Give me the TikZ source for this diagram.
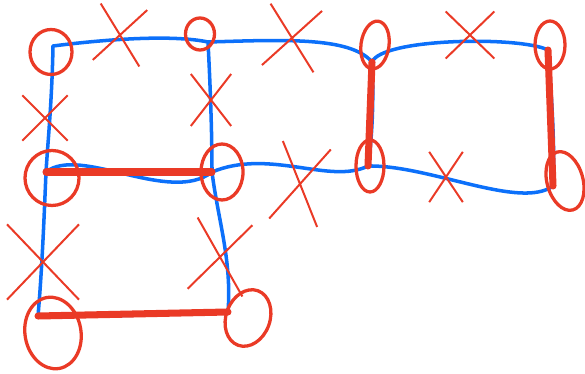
\documentclass[tikz,border=0pt]{standalone}
\usepackage{xcolor}
\usepackage{tikz}
\usetikzlibrary{shapes.geometric, shapes.misc}
\definecolor{sketchblue}{RGB}{12,112,250}
\definecolor{sketchred}{RGB}{234,58,38}
\tikzstyle{edge} = [draw=sketchblue, line width=3pt, line cap=round, line join=round]
\tikzstyle{marked} = [draw=sketchred, line width=6pt, line cap=round]
\tikzstyle{ring} = [
    ellipse,
    draw=sketchred,
    line width=2.8pt,
    inner sep=0pt
]
\tikzstyle{xmark} = [
    cross out,
    draw=sketchred,
    line width=1.7pt,
    inner sep=0pt
]

\begin{document}
\begin{tikzpicture}[x=0.03cm, y=-0.03cm]
    \useasboundingbox (0,0) rectangle (585,374);
    % Ecken
    \coordinate (vA) at (53,46);
    \coordinate (vB) at (208,42);
    \coordinate (vC) at (372,62);
    \coordinate (vD) at (548,50);
    \coordinate (vE) at (46,172);
    \coordinate (vF) at (212,172);
    \coordinate (vG) at (368,166);
    \coordinate (vH) at (553,186);
    \coordinate (vI) at (38,316);
    \coordinate (vJ) at (228,312);
    % blaue Kanten
    \draw [edge] (vA) .. controls (100,40) and (170,34) .. (vB);
    \draw [edge] (vB) .. controls (280,40) and (350,36) .. (vC);
    \draw [edge] (vC) .. controls (382,38) and (520,36) .. (vD);
    \draw [edge] (vA) .. controls (52,100) and (48,140) .. (vE);
    \draw [edge] (vB) .. controls (210,80) and (212,130) .. (vF);
    \draw [edge] (vC) .. controls (374,100) and (372,140) .. (vG);
    \draw [edge] (vD) .. controls (552,100) and (555,150) .. (vH);
    \draw [edge] (vE) .. controls (80,145) and (170,205) .. (vF);
    \draw [edge] (vF) .. controls (270,148) and (330,185) .. (vG);
    \draw [edge] (vG) .. controls (430,165) and (520,210) .. (vH);
    \draw [edge] (vE) .. controls (44,220) and (42,270) .. (vI);
    \draw [edge] (vF) .. controls (218,220) and (232,260) .. (vJ);
    \draw [edge] (vI) .. controls (100,317) and (180,314) .. (vJ);
    % rote Kanten
    \draw [marked] (vE) -- (vF);
    \draw [marked] (vC) -- (vG);
    \draw [marked] (vD) -- (vH);
    \draw [marked] (vI) -- (vJ);
    % Kreise
    \node (rA) [ring, minimum width=1.26cm, minimum height=1.35cm] at (51,52) {};
    \node (rB) [ring, minimum width=0.87cm, minimum height=0.96cm] at (200,34) {};
    \node (rC) [ring, minimum width=0.84cm, minimum height=1.44cm, rotate=-8] at (375,45) {};
    \node (rD) [ring, minimum width=0.9cm, minimum height=1.44cm] at (550,45) {};
    \node (rE) [ring, minimum width=1.62cm, minimum height=1.65cm] at (52,178) {};
    \node (rF) [ring, minimum width=1.26cm, minimum height=1.68cm] at (222,172) {};
    \node (rG) [ring, minimum width=0.84cm, minimum height=1.56cm] at (370,166) {};
    \node (rH) [ring, minimum width=1.08cm, minimum height=1.8cm, rotate=15] at (565,181) {};
    \node (rI) [ring, minimum width=1.68cm, minimum height=2.16cm, rotate=10] at (53,333) {};
    \node (rJ) [ring, minimum width=1.32cm, minimum height=1.74cm, rotate=-20] at (248,318) {};
    % Kreuze
    \node (xAB) [xmark, minimum width=1.35cm, minimum height=1.65cm, rotate=-8] at (120,35) {};
    \node (xBC) [xmark, minimum width=1.5cm, minimum height=1.8cm, rotate=-8] at (292,38) {};
    \node (xCD) [xmark, minimum width=1.4cm, minimum height=1.35cm] at (470,35) {};
    \node (xAE) [xmark, minimum width=1.3cm, minimum height=1.3cm] at (45,118) {};
    \node (xBF) [xmark, minimum width=1.15cm, minimum height=1.5cm] at (211,100) {};
    \node (xFG) [xmark, minimum width=1.4cm, minimum height=2.3cm, rotate=-10] at (300,184) {};
    \node (xGH) [xmark, minimum width=0.95cm, minimum height=1.45cm] at (446,177) {};
    \node (xEI) [xmark, minimum width=2.1cm, minimum height=2.2cm] at (43,262) {};
    \node (xFJ) [xmark, minimum width=1.6cm, minimum height=2.1cm, rotate=-8] at (220,257) {};
\end{tikzpicture}
\end{document}
